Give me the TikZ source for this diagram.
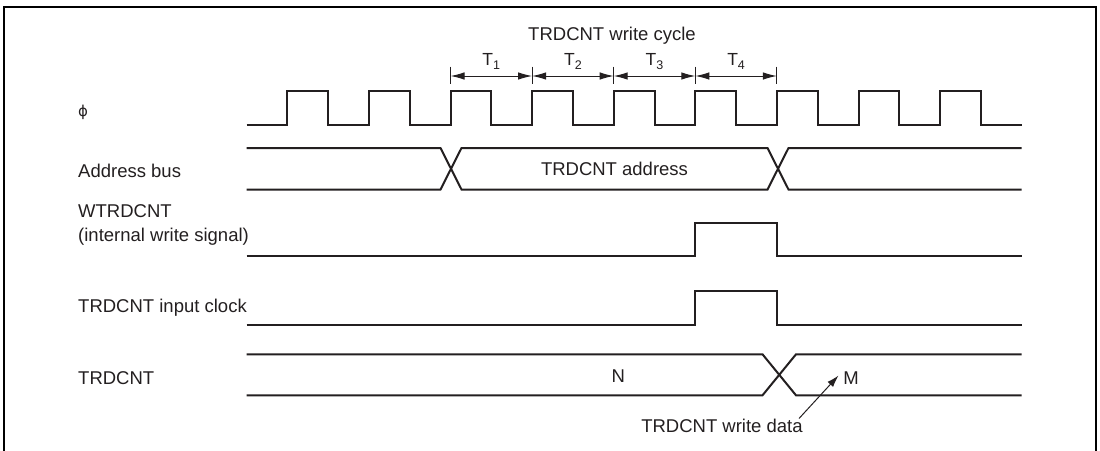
\documentclass[tikz,border=0pt]{standalone}
\usepackage{fontspec}
\setmainfont{Liberation Sans}
\newfontfamily\phifont{DejaVu Sans}
\usetikzlibrary{arrows.meta,calc}
\definecolor{ink}{RGB}{35,31,32}
\newcommand{\Tsub}[1]{T\raisebox{-4.5pt}{\fontsize{12.5}{12.5}\selectfont #1}}
\begin{document}
\begin{tikzpicture}[x=1pt,y=-1pt,
  sig/.style={line width=2pt, draw=ink, line join=miter},
  lbl/.style={anchor=base west, inner sep=0pt, font=\fontsize{18.5}{18.5}\selectfont, text=ink},
  txt/.style={anchor=base, inner sep=0pt, font=\fontsize{18.5}{18.5}\selectfont, text=ink},
  tlbl/.style={anchor=base, inner sep=0pt, font=\fontsize{17.5}{17.5}\selectfont, text=ink},
  tickline/.style={line width=1pt, draw=ink},
  dimarrow/.style={line width=1pt, draw=ink, {Latex[length=14pt,width=7.5pt]}-{Latex[length=14pt,width=7.5pt]}},
  ptr/.style={line width=1pt, draw=ink, -{Latex[length=12pt,width=7.5pt]}},
  frame/.style={line width=2.5pt, draw=black}
]
\useasboundingbox (0,0) rectangle (1100,450);
% frame (open at bottom)
\draw[frame] (4,452) -- (4,7) -- (1096,7) -- (1096,452);

% clock phi
\draw[sig] (246.5,125.3)
  foreach \k in {0,...,8} {
    -- ({246.5+(2*\k+1)*40.8},125.3) -- ({246.5+(2*\k+1)*40.8},91)
    -- ({246.5+(2*\k+2)*40.8},91) -- ({246.5+(2*\k+2)*40.8},125.3)
  } -- (1021.7,125.3);

% T period markers
\coordinate (t0) at (450.5,76);
\coordinate (t1) at (532.1,76);
\coordinate (t2) at (613.7,76);
\coordinate (t3) at (695.3,76);
\coordinate (t4) at (776.9,76);
\foreach \i in {0,...,4} {
  \draw[tickline] ($(t\i)+(0,-9.5)$) -- ($(t\i)+(0,7.5)$);
}
\draw[dimarrow] (t0) -- (t1);
\draw[dimarrow] (t1) -- (t2);
\draw[dimarrow] (t2) -- (t3);
\draw[dimarrow] (t3) -- (t4);
\node[tlbl] (T1) at (491.3,65) {\Tsub{1}};
\node[tlbl] (T2) at (572.9,65) {\Tsub{2}};
\node[tlbl] (T3) at (654.5,65) {\Tsub{3}};
\node[tlbl] (T4) at (736.1,65) {\Tsub{4}};
\node[txt] (cycle) at (612,40) {TRDCNT write cycle};

% address bus
\draw[sig] (246.5,148) -- (440.5,148) -- (461.5,189.5) -- (767.5,189.5) -- (788.5,148) -- (1021.7,148);
\draw[sig] (246.5,189.5) -- (440.5,189.5) -- (461.5,148) -- (767.5,148) -- (788.5,189.5) -- (1021.7,189.5);
\node[txt] (addr) at (614.5,175) {TRDCNT address};

% WTRDCNT
\draw[sig] (246.5,256) -- (695.3,256) -- (695.3,222.7) -- (776.9,222.7) -- (776.9,256) -- (1021.7,256);
% input clock
\draw[sig] (246.5,325) -- (695.3,325) -- (695.3,291) -- (776.9,291) -- (776.9,325) -- (1021.7,325);
% TRDCNT bus
\draw[sig] (246.5,354.3) -- (762.5,354.3) -- (796,395.3) -- (1021.7,395.3);
\draw[sig] (246.5,395.3) -- (762.5,395.3) -- (796,354.3) -- (1021.7,354.3);
\node[txt] (N) at (618.3,382.7) {N};
\node[txt] (M) at (851,384) {M};
\node[txt] (wdata) at (722,432.3) {TRDCNT write data};
\coordinate (wtail) at (799,418.5);
\coordinate (wtip) at (838.5,375.5);
\draw[ptr] (wtail) -- (wtip);

% row labels
\node[lbl, font=\phifont\fontsize{15}{15}\selectfont] (lphi) at (78,116) {ϕ};
\node[lbl] (laddr) at (78,177.3) {Address bus};
\node[lbl] (lw1) at (78,217.5) {WTRDCNT};
\node[lbl] (lw2) at (78,241) {(internal write signal)};
\node[lbl] (lclk) at (78,312.7) {TRDCNT input clock};
\node[lbl] (lcnt) at (78,384.3) {TRDCNT};
\end{tikzpicture}
\end{document}
